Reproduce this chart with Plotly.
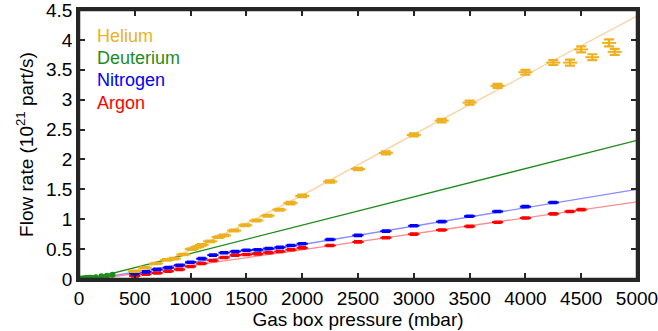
import plotly.graph_objects as go

# ---------------- data ----------------
he_x = [500, 590, 690, 790, 850, 935, 1010, 1060, 1100, 1175, 1250, 1300, 1390, 1490, 1590,
        1690, 1795, 1895, 2000, 2250, 2500, 2750, 3000, 3250, 3500, 3750, 4000, 4250, 4400,
        4500, 4600, 4750, 4800]
he_y = [0.13, 0.19, 0.26, 0.32, 0.34, 0.41, 0.50, 0.535, 0.57, 0.63, 0.70, 0.73, 0.81, 0.90, 0.98,
        1.06, 1.16, 1.27, 1.39, 1.63, 1.84, 2.11, 2.41, 2.65, 2.95, 3.23, 3.46, 3.62, 3.62,
        3.84, 3.71, 3.95, 3.80]
he_err = [0.012, 0.012, 0.012, 0.012, 0.012, 0.012, 0.012, 0.012, 0.012, 0.012, 0.012, 0.012, 0.015, 0.015, 0.015,
          0.015, 0.015, 0.02, 0.02, 0.02, 0.02, 0.025, 0.025, 0.03, 0.035, 0.035, 0.04, 0.04, 0.05,
          0.05, 0.05, 0.06, 0.05]

n2_x = [500, 600, 700, 800, 900, 1000, 1100, 1200, 1300, 1400, 1500, 1600, 1700, 1800, 1900,
        2000, 2250, 2500, 2750, 3000, 3250, 3500, 3750, 4000, 4250]
n2_y = [0.09, 0.12, 0.16, 0.19, 0.23, 0.28, 0.34, 0.40, 0.44, 0.46, 0.48, 0.49, 0.51, 0.53, 0.56,
        0.59, 0.66, 0.73, 0.80, 0.89, 0.96, 1.05, 1.13, 1.21, 1.28]

ar_x = [500, 600, 700, 800, 900, 1000, 1100, 1200, 1300, 1400, 1500, 1600, 1700, 1800, 1900,
        2000, 2250, 2500, 2750, 3000, 3250, 3500, 3750, 4000, 4250, 4400, 4500]
ar_y = [0.05, 0.08, 0.10, 0.13, 0.16, 0.21, 0.26, 0.31, 0.36, 0.40, 0.41, 0.42, 0.44, 0.46, 0.49,
        0.52, 0.56, 0.62, 0.69, 0.75, 0.82, 0.88, 0.95, 1.02, 1.09, 1.13, 1.16]

d2_x = [0, 15, 30, 45, 60, 75, 90, 110, 150, 200, 250, 300]
d2_y = [0.0, 0.005, 0.01, 0.01, 0.015, 0.015, 0.02, 0.02, 0.03, 0.045, 0.055, 0.07]

# fitted curves
he_fit_x = [150, 400, 600, 870, 1130, 1500, 2000, 3000, 5000]
he_fit_y = [0.0, 0.07, 0.20, 0.38, 0.60, 0.93, 1.40, 2.42, 4.40]
d2_fit_x = [100, 5000]
d2_fit_y = [0.0, 2.32]
n2_fit_x = [130, 5000]
n2_fit_y = [0.0, 1.50]
ar_fit_x = [163, 5000]
ar_fit_y = [0.0, 1.29]

legend_names = ["Helium", "Deuterium", "Nitrogen", "Argon"]
x_ticks = [0, 500, 1000, 1500, 2000, 2500, 3000, 3500, 4000, 4500, 5000]
y_ticks = [0, 0.5, 1, 1.5, 2, 2.5, 3, 3.5, 4, 4.5]

C_HE = "#EDB120"
C_HE_FIT = "#FFCF9E"
C_D2 = "#1E8C1E"
C_N2 = "#0000FF"
C_N2_FIT = "#8C8CFF"
C_AR = "#FF0000"
C_AR_FIT = "#FF8C8C"
C_FRAME = "#262626"

FONT = "Liberation Sans, Arial, Helvetica, sans-serif"

fig = go.Figure()

# fit lines
fig.add_trace(go.Scatter(x=he_fit_x, y=he_fit_y, mode="lines", line=dict(color=C_HE_FIT, width=1.3), showlegend=False))
fig.add_trace(go.Scatter(x=d2_fit_x, y=d2_fit_y, mode="lines", line=dict(color=C_D2, width=1.3), showlegend=False))
fig.add_trace(go.Scatter(x=n2_fit_x, y=n2_fit_y, mode="lines", line=dict(color=C_N2_FIT, width=1.3), showlegend=False))
fig.add_trace(go.Scatter(x=ar_fit_x, y=ar_fit_y, mode="lines", line=dict(color=C_AR_FIT, width=1.3), showlegend=False))

def pts(x, y, color, err, width):
    return go.Scatter(
        x=x, y=y, mode="markers",
        marker=dict(symbol="line-ew", size=width * 2, line=dict(color=color, width=2)),
        error_y=dict(type="data", array=err, visible=True, color=color, thickness=2.2, width=width),
        showlegend=False,
    )

fig.add_trace(pts(ar_x, ar_y, C_AR, [0.012] * len(ar_x), 4))
fig.add_trace(pts(n2_x, n2_y, C_N2, [0.012] * len(n2_x), 4))
fig.add_trace(pts(he_x, he_y, C_HE, he_err, 5))
fig.add_trace(go.Scatter(x=d2_x, y=d2_y, mode="markers",
                         marker=dict(symbol="circle", size=6, color=C_D2), showlegend=False))

# text legend
leg_colors = [C_HE, C_D2, C_N2, C_AR]
for i, (name, col) in enumerate(zip(legend_names, leg_colors)):
    fig.add_annotation(x=0.028, y=0.905 - i * 0.083, xref="paper", yref="paper",
                       text=name, showarrow=False, xanchor="left", yanchor="middle",
                       font=dict(family=FONT, size=18, color=col))

axis_common = dict(
    showline=True, mirror="allticks", linecolor=C_FRAME, linewidth=2.5,
    ticks="inside", ticklen=6, tickwidth=2, tickcolor=C_FRAME,
    showgrid=False, zeroline=False, automargin=False,
    ticklabeloverflow="allow",
    tickfont=dict(family=FONT, size=19, color="black"),
)

# frame around the plotting area
fig.add_shape(type="rect", xref="paper", yref="paper", x0=0, y0=0, x1=1, y1=1,
              line=dict(color=C_FRAME, width=2.5), fillcolor="rgba(0,0,0,0)", layer="above")

fig.update_layout(
    width=658, height=331,
    margin=dict(l=79, r=21, t=10, b=52),
    plot_bgcolor="white", paper_bgcolor="white",
    xaxis=dict(range=[0, 5000], tickvals=x_ticks, ticktext=[str(v) for v in x_ticks],
               title=dict(text="Gas box pressure (mbar)", font=dict(family=FONT, size=19, color="black"),
                          standoff=4),
               **axis_common),
    yaxis=dict(range=[0, 4.5], tickvals=y_ticks, ticktext=[("%g" % v) for v in y_ticks],
               title=dict(text="Flow rate (10<sup>21</sup> part/s)", font=dict(family=FONT, size=19, color="black"),
                          standoff=8),
               **axis_common),
)

# remove the default 8px page margin so the figure fills the window exactly
fig.write_html("out.html", config={"displayModeBar": False},
               post_script="document.body.style.margin='0';document.body.style.overflow='hidden';")
